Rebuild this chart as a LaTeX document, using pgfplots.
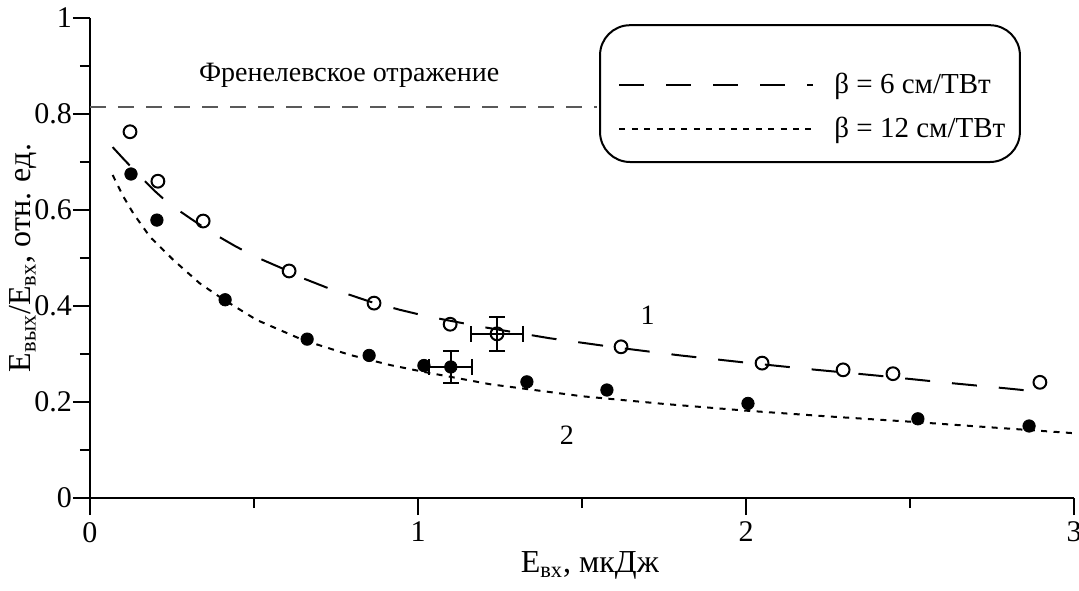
\documentclass[border=0pt]{standalone}
\usepackage{fontspec}
\setmainfont{Liberation Serif}
\usepackage{pgfplots}
\pgfplotsset{compat=1.18}
\begin{document}
\begin{tikzpicture}
\begin{axis}[
  at={(0pt,0pt)}, anchor=south west,
  scale only axis, width=492pt, height=240pt,
  xmin=0, xmax=3, ymin=0, ymax=1,
  axis lines=left, axis line style={-, line width=1pt},
  xtick={0,1,2,3}, ytick={0,0.2,0.4,0.6,0.8,1},
  minor xtick={0.5,1.5,2.5}, minor ytick={0.1,0.3,0.5,0.7,0.9},
  tick align=outside, major tick length=8.5pt, minor tick length=5pt,
  every tick/.style={line width=1pt, black},
  tick label style={font=\fontsize{15}{17}\selectfont},
  yticklabel style={xshift=3pt},
  /pgf/number format/assume math mode=true,
  xlabel={E\textsubscript{вх}, мкДж},
  ylabel={E\textsubscript{вых}/E\textsubscript{вх}, отн. ед.},
  label style={font=\fontsize{16}{18}\selectfont},
  x label style={at={(axis description cs:0.508,-0.14)}, anchor=center},
  y label style={at={(axis description cs:-0.068,0.5)}, anchor=center},
  clip=false,
  legend style={draw=none, fill=none, at={(axis cs:1.61,0.815)}, anchor=west,
    font=\fontsize{14.5}{16}\selectfont, row sep=6pt, inner sep=0pt,
    nodes={inner sep=2pt}},
  legend cell align=left,
  legend image code/.code={\draw[#1] (0pt,0pt) -- (97pt,0pt); \path (105pt,0pt);},
]
% Fresnel level
\addplot[forget plot, color=black!65, line width=0.9pt, dash pattern=on 8pt off 6pt] coordinates {(0,0.815) (1.545,0.815)};
% curve 1 (beta = 6)
\addplot[black, line width=1pt, dash pattern=on 12.5pt off 11pt] coordinates {
(0.069,0.731) (0.10,0.708) (0.15,0.672) (0.20,0.638) (0.239,0.614) (0.305,0.583)
(0.366,0.555) (0.442,0.525) (0.503,0.503) (0.584,0.479) (0.645,0.459) (0.727,0.437)
(0.793,0.423) (0.854,0.409) (0.945,0.392) (1.031,0.378) (1.2,0.356) (1.4,0.333)
(1.6,0.314) (1.8,0.297) (2.0,0.282) (2.2,0.268) (2.4,0.255) (2.6,0.241)
(2.8,0.228) (2.9,0.221)};
\addlegendentry{β = 6 см/ТВт}
% curve 2 (beta = 12)
\addplot[black, line width=1pt, dash pattern=on 3pt off 3.2pt] coordinates {
(0.069,0.673) (0.10,0.630) (0.132,0.593) (0.183,0.544) (0.254,0.496) (0.335,0.447)
(0.406,0.414) (0.508,0.371) (0.65,0.329) (0.793,0.298) (0.915,0.277) (1.016,0.263)
(1.22,0.237) (1.5,0.212) (1.75,0.196) (2.0,0.182) (2.25,0.170) (2.5,0.159)
(2.75,0.147) (3.0,0.135)};
\addlegendentry{β = 12 см/ТВт}
% open circles
\addplot[forget plot, only marks, mark=o, mark size=3.2pt, mark options={line width=1pt, fill=white}] coordinates {
(0.122,0.763) (0.207,0.660) (0.345,0.577) (0.607,0.473) (0.866,0.406) (1.098,0.362)
(1.619,0.315) (2.049,0.281) (2.296,0.267) (2.448,0.259) (2.896,0.241)};
% filled circles
\addplot[forget plot, only marks, mark=*, mark size=3.1pt] coordinates {
(0.125,0.675) (0.204,0.579) (0.412,0.413) (0.662,0.331) (0.851,0.297) (1.018,0.276)
(1.332,0.242) (1.576,0.225) (2.006,0.197) (2.524,0.165) (2.863,0.150)};
% error-bar points
\addplot[forget plot, only marks, mark=o, mark size=3.2pt, mark options={line width=1pt, fill=white},
  error bars/.cd, x dir=both, x explicit, y dir=both, y explicit,
  error bar style={line width=1pt}, error mark options={line width=1pt, mark size=4pt, rotate=90}]
  coordinates {(1.241,0.342) +- (0.08,0.035)};
\addplot[forget plot, only marks, mark=*, mark size=3.1pt,
  error bars/.cd, x dir=both, x explicit, y dir=both, y explicit,
  error bar style={line width=1pt}, error mark options={line width=1pt, mark size=4pt, rotate=90}]
  coordinates {(1.10,0.273) +- (0.065,0.033)};
% decorations
\draw[line width=1pt, rounded corners=15pt] (axis cs:1.555,0.985) rectangle (axis cs:2.835,0.70);
\node[font=\fontsize{14}{16}\selectfont] at (axis cs:0.79,0.88) {Френелевское отражение};
\node[font=\fontsize{14}{16}\selectfont] at (axis cs:1.70,0.381) {1};
\node[font=\fontsize{14}{16}\selectfont] at (axis cs:1.454,0.131) {2};
\end{axis}
\pgfresetboundingbox
\path[use as bounding box] (-45pt,-46pt) rectangle (494.5pt,249pt);
\end{tikzpicture}
\end{document}
